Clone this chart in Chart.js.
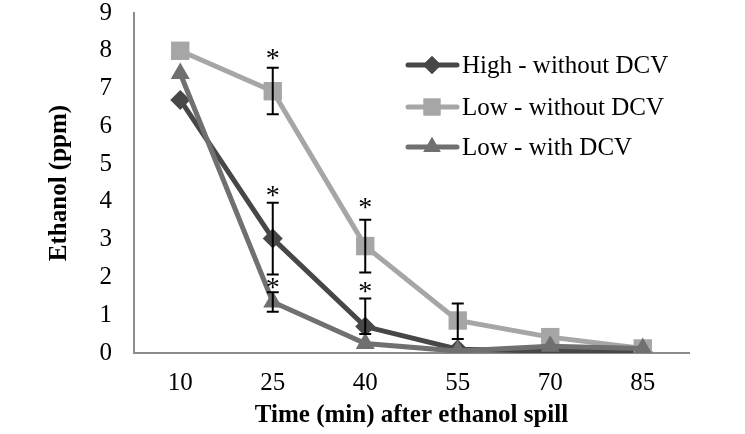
<!DOCTYPE html>
<html>
<head>
<meta charset="utf-8">
<script src="https://cdn.jsdelivr.net/npm/chart.js@4"></script>
<style>
  html, body { margin: 0; padding: 0; background: #fff; }
  #wrap { width: 745px; height: 434px; }
</style>
</head>
<body>
<div id="wrap"><canvas id="chart" width="745" height="434"></canvas></div>
<script>
// Data
const times = ["10", "25", "40", "55", "70", "85"];
const seriesNames = ["High - without DCV", "Low - without DCV", "Low - with DCV"];

const highNoDcv = [6.7, 3.03, 0.7, 0.1, 0.05, 0.03];
const lowNoDcv = [8.0, 6.93, 2.83, 0.86, 0.42, 0.12];
const lowDcv = [7.4, 1.35, 0.25, 0.05, 0.18, 0.12];

// error bars: [lower, upper] per point, null where none
const highNoDcvErr = [null, [2.08, 3.98], [0.5, 1.44], null, null, null];
const lowNoDcvErr = [null, [6.32, 7.55], [2.13, 3.53], [0.37, 1.31], null, null];
const lowDcvErr = [null, [1.09, 1.61], null, null, null, null];

// significance markers: category + value height
const starCats = ["25", "25", "25", "40", "40"];
const starVals = [7.92, 4.3, 1.85, 3.96, 1.74];

const yTicks = [0, 1, 2, 3, 4, 5, 6, 7, 8, 9];

const colors = ["#474747", "#a6a6a6", "#707070"];
const styles = ["rectRot", "rect", "triangle"];
const radii = [10, 13, 11];
const serif = "'Liberation Serif', 'Times New Roman', serif";

const errorBarPlugin = {
  id: "errorBars",
  afterDatasetsDraw(chart) {
    const ctx = chart.ctx;
    const x = chart.scales.x;
    const y = chart.scales.y;
    const errs = [highNoDcvErr, lowNoDcvErr, lowDcvErr];
    ctx.save();
    ctx.strokeStyle = "#000";
    ctx.lineWidth = 2;
    errs.forEach((list) => {
      list.forEach((e, i) => {
        if (!e) return;
        const px = x.getPixelForValue(i);
        const lo = y.getPixelForValue(e[0]);
        const hi = y.getPixelForValue(e[1]);
        ctx.beginPath();
        ctx.moveTo(px, lo);
        ctx.lineTo(px, hi);
        ctx.moveTo(px - 6, lo);
        ctx.lineTo(px + 6, lo);
        ctx.moveTo(px - 6, hi);
        ctx.lineTo(px + 6, hi);
        ctx.stroke();
      });
    });
    // asterisks
    ctx.fillStyle = "#000";
    ctx.font = "28px " + serif;
    ctx.textAlign = "center";
    ctx.textBaseline = "alphabetic";
    starCats.forEach((c, i) => {
      const px = x.getPixelForValue(times.indexOf(c));
      const py = y.getPixelForValue(starVals[i]);
      ctx.fillText("*", px, py + 13);
    });
    ctx.restore();
  }
};

const legendPlugin = {
  id: "innerLegend",
  afterDraw(chart) {
    const ctx = chart.ctx;
    const rows = [65, 107, 147];
    ctx.save();
    seriesNames.forEach((name, i) => {
      const yy = rows[i];
      ctx.strokeStyle = colors[i];
      ctx.lineWidth = 5;
      ctx.lineCap = "round";
      ctx.beginPath();
      ctx.moveTo(408, yy);
      ctx.lineTo(457, yy);
      ctx.stroke();
      ctx.fillStyle = colors[i];
      Chart.helpers.drawPoint(ctx, {pointStyle: styles[i], radius: radii[i] - 1, rotation: 0, borderWidth: 0}, 432, yy);
      ctx.fill();
      ctx.fillStyle = "#000";
      ctx.font = "25px " + serif;
      ctx.textAlign = "left";
      ctx.textBaseline = "middle";
      ctx.fillText(name, 462, yy + 1);
    });
    ctx.restore();
  }
};

function makeSet(label, data, i, order) {
  return {
    label: label,
    data: data,
    borderColor: colors[i],
    backgroundColor: colors[i],
    borderWidth: 5,
    pointStyle: styles[i],
    pointRadius: radii[i],
    pointBorderWidth: 0,
    pointBackgroundColor: colors[i],
    tension: 0,
    order: order
  };
}

new Chart(document.getElementById("chart"), {
  type: "line",
  data: {
    labels: times,
    datasets: [
      makeSet(seriesNames[0], highNoDcv, 0, 2),
      makeSet(seriesNames[1], lowNoDcv, 1, 1),
      makeSet(seriesNames[2], lowDcv, 2, 0)
    ]
  },
  options: {
    responsive: false,
    animation: false,
    layout: { padding: { top: 12, right: 56, left: 0, bottom: 0 } },
    plugins: {
      legend: { display: false },
      tooltip: { enabled: false }
    },
    scales: {
      x: {
        offset: true,
        grid: { display: false, drawTicks: false },
        border: { color: "#8c8c8c", width: 2 },
        ticks: { color: "#000", font: { family: serif, size: 25 }, padding: 15 },
        title: {
          display: true,
          text: "Time (min) after ethanol spill",
          color: "#000",
          font: { family: serif, size: 25, weight: "bold" },
          padding: { top: 0, bottom: 3 }
        },
        afterFit(scale) {
          scale.height = 81;
          scale.paddingLeft = 0;
          scale.paddingRight = 0;
        }
      },
      y: {
        min: 0,
        max: 9,
        afterBuildTicks(scale) { scale.ticks = yTicks.map((v) => ({ value: v })); },
        grid: { display: false, drawTicks: false },
        border: { color: "#8c8c8c", width: 2 },
        ticks: { color: "#000", font: { family: serif, size: 25 }, padding: 22 },
        title: {
          display: true,
          text: "Ethanol (ppm)",
          color: "#000",
          font: { family: serif, size: 25, weight: "bold" },
          padding: { top: 45, bottom: 0 }
        },
        afterFit(scale) {
          scale.width = 134;
          scale.paddingTop = 0;
          scale.paddingBottom = 0;
        }
      }
    }
  },
  plugins: [errorBarPlugin, legendPlugin]
});
</script>
</body>
</html>
